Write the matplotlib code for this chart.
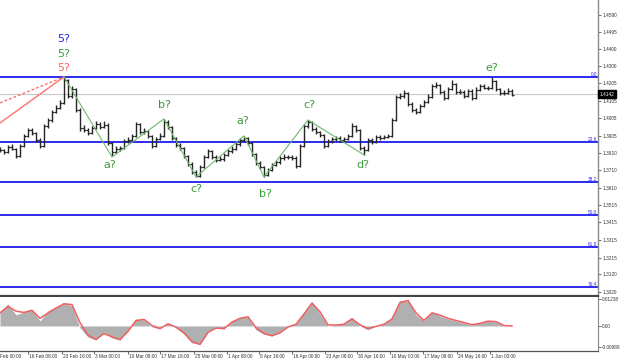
import matplotlib
matplotlib.use('Agg')
import matplotlib.pyplot as plt
import matplotlib.transforms as mtransforms
import numpy as np

# H4 price bars (one entry per plotted bar)
closes = [1.3825, 1.3814, 1.3842, 1.3831, 1.3791, 1.3848, 1.3905, 1.3939, 1.3922, 1.3882,
          1.3848, 1.3961, 1.3995, 1.4041, 1.4063, 1.4092, 1.4222, 1.4131, 1.4171, 1.4052,
          1.3950, 1.3939, 1.3922, 1.3950, 1.3973, 1.3956, 1.3967, 1.3865, 1.3814, 1.3831,
          1.3836, 1.3876, 1.3882, 1.3905, 1.3973, 1.3927, 1.3933, 1.3905, 1.3848, 1.3888,
          1.3905, 1.3984, 1.3956, 1.3893, 1.3853, 1.3836, 1.3791, 1.3746, 1.3700, 1.3678,
          1.3729, 1.3785, 1.3819, 1.3785, 1.3768, 1.3774, 1.3797, 1.3819, 1.3831, 1.3859,
          1.3882, 1.3893, 1.3865, 1.3802, 1.3751, 1.3729, 1.3683, 1.3712, 1.3740, 1.3757,
          1.3780, 1.3785, 1.3785, 1.3780, 1.3734, 1.3848, 1.3961, 1.3984, 1.3944, 1.3927,
          1.3910, 1.3848, 1.3876, 1.3888, 1.3893, 1.3882, 1.3888, 1.3905, 1.3961, 1.3939,
          1.3836, 1.3825, 1.3882, 1.3870, 1.3899, 1.3893, 1.3899, 1.3905, 1.3995, 1.4126,
          1.4131, 1.4148, 1.4086, 1.4052, 1.4041, 1.4075, 1.4097, 1.4126, 1.4188, 1.4194,
          1.4154, 1.4120, 1.4171, 1.4199, 1.4154, 1.4154, 1.4131, 1.4160, 1.4120, 1.4165,
          1.4188, 1.4177, 1.4177, 1.4216, 1.4171, 1.4148, 1.4148, 1.4160, 1.4137]
highs = [1.3841, 1.3833, 1.3852, 1.3856, 1.3838, 1.3860, 1.3915, 1.3952, 1.3948, 1.3929,
         1.3890, 1.3972, 1.4006, 1.4050, 1.4078, 1.4110, 1.4239, 1.4228, 1.4190, 1.4178,
         1.4060, 1.3966, 1.3950, 1.3962, 1.3990, 1.3985, 1.3988, 1.3975, 1.3872, 1.3845,
         1.3850, 1.3888, 1.3898, 1.3918, 1.3985, 1.3980, 1.3948, 1.3940, 1.3912, 1.3900,
         1.3920, 1.4000, 1.3992, 1.3962, 1.3900, 1.3866, 1.3842, 1.3798, 1.3755, 1.3710,
         1.3740, 1.3795, 1.3830, 1.3826, 1.3795, 1.3788, 1.3810, 1.3832, 1.3845, 1.3870,
         1.3895, 1.3905, 1.3900, 1.3872, 1.3810, 1.3760, 1.3735, 1.3722, 1.3752, 1.3770,
         1.3792, 1.3800, 1.3798, 1.3796, 1.3788, 1.3860, 1.3972, 1.3995, 1.3990, 1.3955,
         1.3935, 1.3918, 1.3888, 1.3900, 1.3906, 1.3902, 1.3898, 1.3918, 1.3975, 1.3968,
         1.3945, 1.3848, 1.3892, 1.3890, 1.3910, 1.3908, 1.3912, 1.3918, 1.4005, 1.4138,
         1.4150, 1.4162, 1.4155, 1.4095, 1.4062, 1.4088, 1.4110, 1.4140, 1.4200, 1.4210,
         1.4200, 1.4162, 1.4182, 1.4222, 1.4205, 1.4168, 1.4162, 1.4172, 1.4168, 1.4180,
         1.4200, 1.4198, 1.4190, 1.4236, 1.4222, 1.4178, 1.4162, 1.4175, 1.4168]
lows = [1.3812, 1.3801, 1.3806, 1.3822, 1.3779, 1.3785, 1.3840, 1.3898, 1.3911, 1.3870,
        1.3836, 1.3842, 1.3952, 1.3985, 1.4033, 1.4055, 1.4085, 1.4118, 1.4122, 1.4040,
        1.3935, 1.3925, 1.3910, 1.3915, 1.3942, 1.3945, 1.3948, 1.3852, 1.3788, 1.3810,
        1.3820, 1.3830, 1.3865, 1.3872, 1.3898, 1.3915, 1.3918, 1.3893, 1.3836, 1.3840,
        1.3880, 1.3898, 1.3945, 1.3882, 1.3842, 1.3825, 1.3780, 1.3735, 1.3690, 1.3672,
        1.3672, 1.3720, 1.3778, 1.3772, 1.3758, 1.3760, 1.3765, 1.3790, 1.3810, 1.3822,
        1.3850, 1.3874, 1.3855, 1.3792, 1.3740, 1.3718, 1.3672, 1.3676, 1.3705, 1.3732,
        1.3748, 1.3770, 1.3772, 1.3768, 1.3722, 1.3728, 1.3840, 1.3952, 1.3935, 1.3915,
        1.3898, 1.3838, 1.3840, 1.3866, 1.3878, 1.3870, 1.3872, 1.3880, 1.3898, 1.3928,
        1.3825, 1.3797, 1.3818, 1.3860, 1.3862, 1.3882, 1.3885, 1.3890, 1.3898, 1.3988,
        1.4115, 1.4122, 1.4075, 1.4040, 1.4030, 1.4035, 1.4066, 1.4090, 1.4118, 1.4178,
        1.4142, 1.4108, 1.4112, 1.4162, 1.4142, 1.4140, 1.4120, 1.4125, 1.4108, 1.4112,
        1.4158, 1.4168, 1.4165, 1.4170, 1.4160, 1.4135, 1.4135, 1.4140, 1.4128]
first_open = 1.3830
last_price = 1.4142

# oscillator, one value every second bar
osc_hist = [0.0064, 0.0101, 0.0051, 0.0064, 0.0074, 0.0023, 0.0069, 0.0087, 0.0106, 0.0092,
            -0.0009, -0.0051, -0.0064, -0.0028, -0.0055, -0.0064, -0.0018, 0.0032, 0.0028, -0.0005,
            -0.0014, 0.0014, -0.0009, -0.0037, -0.0078, -0.0083, -0.0023, -0.0009, -0.0014, 0.0023,
            0.0037, 0.0041, -0.0018, -0.0037, -0.0046, -0.0028, 0.0000, 0.0009, 0.0064, 0.0110,
            0.0055, 0.0000, 0.0005, 0.0009, 0.0037, 0.0000, -0.0018, 0.0000, 0.0009, 0.0037,
            0.0115, 0.0115, 0.0051, 0.0023, 0.0064, 0.0046, 0.0032, 0.0023, 0.0014, 0.0005,
            0.0014, 0.0023, 0.0018, 0.0000, 0.0000]
osc_signal = [0.0060, 0.0090, 0.0068, 0.0062, 0.0072, 0.0035, 0.0060, 0.0082, 0.0102, 0.0098,
              0.0015, -0.0042, -0.0062, -0.0035, -0.0050, -0.0063, -0.0025, 0.0025, 0.0030, 0.0002,
              -0.0012, 0.0010, -0.0005, -0.0032, -0.0072, -0.0085, -0.0030, -0.0010, -0.0012, 0.0018,
              0.0035, 0.0042, -0.0008, -0.0035, -0.0045, -0.0032, -0.0005, 0.0008, 0.0055, 0.0105,
              0.0065, 0.0005, 0.0004, 0.0008, 0.0033, 0.0005, -0.0012, -0.0002, 0.0008, 0.0032,
              0.0108, 0.0117, 0.0060, 0.0025, 0.0060, 0.0050, 0.0035, 0.0025, 0.0016, 0.0006,
              0.0012, 0.0022, 0.0020, 0.0002, 0.0000]

# fibonacci grid
fib_levels = [1.4239, 1.3870, 1.3642, 1.3459, 1.3275, 1.3047]
fib_names = ['0.0', '23.6', '38.2', '50.0', '61.8', '76.4']

# wave marks: bar index, price
wave_x = [16, 28, 41, 49, 61, 66, 77, 91]
wave_y = [1.4239, 1.3785, 1.4001, 1.3672, 1.3905, 1.3672, 1.3995, 1.3797]
wave_labels = ['a?', 'b?', 'c?', 'a?', 'b?', 'c?', 'd?', 'e?']
label_x = [27.5, 41, 49, 60.75, 66.25, 77.25, 90.75, 123]
label_y = [1.3738, 1.4080, 1.3603, 1.3990, 1.3575, 1.4080, 1.3738, 1.4290]

# red channel lines toward the top
red_solid = ([0, 16], [1.3978, 1.4239])
red_dash = ([0, 16], [1.4092, 1.4239])

y_ticks = [1.4590, 1.4495, 1.4400, 1.4300, 1.4205, 1.4105, 1.4005, 1.3905, 1.3810,
           1.3710, 1.3610, 1.3515, 1.3415, 1.3315, 1.3215, 1.3120, 1.3020]
date_pos = [-1.25, 7, 15.5, 23.5, 32, 40, 48.5, 56.75, 64.75, 73, 81.25, 89.25,
            97.5, 105.75, 114.25, 122.5]
date_labels = ['9 Feb 00:00', '16 Feb 08:00', '23 Feb 16:00', '3 Mar 00:00', '10 Mar 08:00',
               '17 Mar 16:00', '25 Mar 00:00', '1 Apr 08:00', '8 Apr 16:00', '16 Apr 00:00',
               '23 Apr 08:00', '30 Apr 16:00', '10 May 00:00', '17 May 08:00',
               '24 May 16:00', '1 Jun 00:00']

small = ['Liberation Sans', 'DejaVu Sans']
fs = 3.4

blue = '#2b2bf0'
green_line = '#6cbb6c'
green_txt = '#3a9a3a'
bar_col = '#262626'

fig = plt.figure(figsize=(6.2, 3.61), dpi=100)
W, H = 620, 361
ax = fig.add_axes([0, (H - 296) / H, 598 / W, 296 / H])
ax2 = fig.add_axes([0, (H - 351) / H, 598 / W, 54 / H])

x = np.arange(len(closes))
opens = [first_open] + closes[:-1]

# horizontal levels
yt = mtransforms.blended_transform_factory(ax.transAxes, ax.transData)
for lvl, nm in zip(fib_levels, fib_names):
    ax.axhline(lvl, color=blue, lw=1.4, zorder=2)
    ax.text(0.998, lvl, nm, transform=yt, ha='right', va='bottom',
            fontsize=fs, color=blue, family=small)
ax.axhline(last_price, color='#c8c8c8', lw=0.8, zorder=1)

# price bars
ax.vlines(x, lows, highs, color=bar_col, lw=1.0, zorder=3)
ax.hlines(opens, x - 0.55, x, color=bar_col, lw=0.9, zorder=3)
ax.hlines(closes, x, x + 0.55, color=bar_col, lw=0.9, zorder=3)

# wave lines and labels
ax.plot(wave_x, wave_y, color=green_line, lw=0.8, zorder=4)
ax.plot(*red_solid, color='#ff7070', lw=1.0, zorder=4)
ax.plot(*red_dash, color='#ff7070', lw=1.0, ls=(0, (2, 1.5)), zorder=4)
for lx, ly, t in zip(label_x, label_y, wave_labels):
    ax.text(lx, ly, t, color=green_txt, fontsize=8, ha='center', va='center')
ax.text(16, 1.4456, '5?', color='#2b2be0', fontsize=8, ha='center', va='center')
ax.text(16, 1.4371, '5?', color=green_txt, fontsize=8, ha='center', va='center')
ax.text(16, 1.4290, '5?', color='#ff6666', fontsize=8, ha='center', va='center')

ax.set_xlim(0, 149.5)
ax.set_ylim(1.2997, 1.4675)
ax.yaxis.tick_right()
ax.set_yticks(y_ticks)
ax.set_yticklabels(['%.4f' % v for v in y_ticks], family=small, fontsize=fs, color='#333333')
ax.tick_params(axis='y', length=2, width=0.6, pad=1, color='#555555')
ax.set_xticks([])
for s in ['top', 'left']:
    ax.spines[s].set_visible(False)
ax.spines['right'].set_color('#888888')
ax.spines['right'].set_linewidth(1.0)
ax.spines['bottom'].set_color('#444444')
ax.spines['bottom'].set_linewidth(1.6)

ax.annotate('%.4f' % last_price, xy=(1.0, last_price), xycoords=yt,
            xytext=(1.2, 0), textcoords='offset points', ha='left', va='center',
            fontsize=fs, family=small, color='white', annotation_clip=False,
            bbox=dict(boxstyle='square,pad=0.3', fc='black', ec='black'))

# oscillator panel
ox = np.arange(len(osc_hist)) * 2
ax2.fill_between(ox, 0, osc_hist, color='#b0b0b0', lw=0)
ax2.plot(ox, osc_signal, color='#f06060', lw=1.1)
ax2.set_xlim(0, 149.5)
ax2.set_ylim(-0.0115, 0.0133)
ax2.yaxis.tick_right()
ax2.set_yticks([0.01238, 0.0, -0.00988])
ax2.set_yticklabels(['0.01238', '0.00', '-0.00988'], family=small, fontsize=fs, color='#333333')
ax2.tick_params(axis='y', length=2, width=0.6, pad=1, color='#555555')
ax2.set_xticks([p for p in date_pos if p >= 0])
ax2.set_xticklabels([])
ax2.tick_params(axis='x', length=2, width=0.6, color='#555555')
for s in ['top', 'left']:
    ax2.spines[s].set_visible(False)
ax2.spines['right'].set_color('#888888')
ax2.spines['bottom'].set_color('#555555')
ax2.spines['bottom'].set_linewidth(0.9)

tb = mtransforms.blended_transform_factory(ax2.transData, ax2.transAxes)
for p, lab in zip(date_pos, date_labels):
    ax2.text(p + 0.25, -0.06, lab, transform=tb, ha='left', va='top',
             fontsize=fs, family=small, color='#333333', clip_on=False)

fig.savefig('out.png', dpi=100, facecolor='white')
